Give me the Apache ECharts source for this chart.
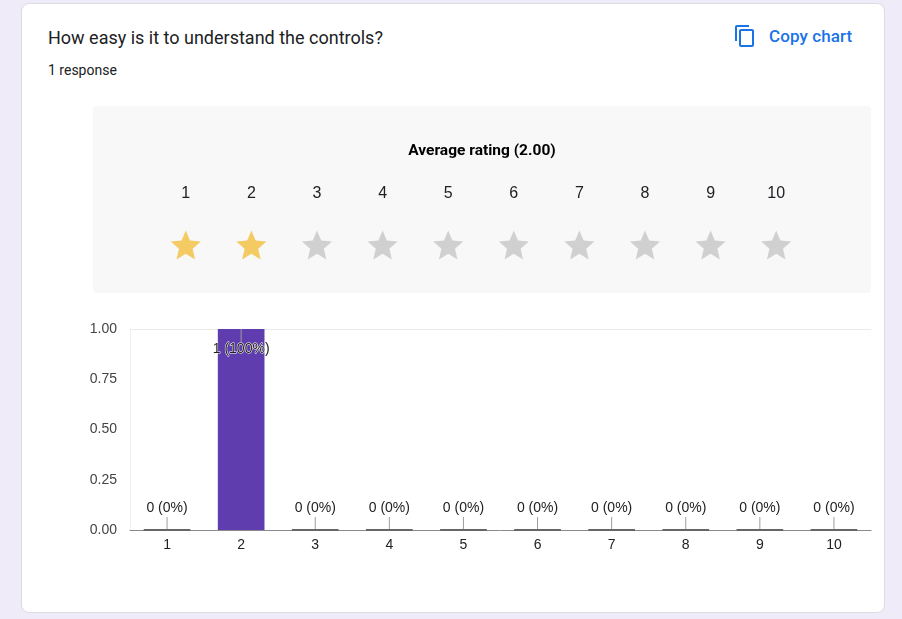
<!DOCTYPE html>
<html>
<head>
<meta charset="utf-8">
<script src="https://cdn.jsdelivr.net/npm/echarts@6/dist/echarts.min.js"></script>
<style>
  html, body { margin: 0; padding: 0; }
  body { width: 902px; height: 619px; background: #f0ebf8; position: relative; overflow: hidden; font-family: Roboto, Arial, sans-serif; }
  .card { position: absolute; left: 21px; top: 3px; width: 862px; height: 608px; background: #fff; border: 1px solid #dadce0; border-radius: 8px; }
  .title { position: absolute; left: 48px; top: 27px; font-size: 18px; color: #202124; }
  .sub { position: absolute; left: 48px; top: 62px; font-size: 14px; color: #202124; }
  .copy { position: absolute; left: 733px; top: 24px; display: flex; align-items: center; color: #1a73e8; font-size: 17px; font-weight: 500; letter-spacing: 0.1px; }
  .copy svg { margin-right: 12px; }
  .panel { position: absolute; left: 93px; top: 106px; width: 778px; height: 187px; background: #f8f8f8; border-radius: 4px; }
  #chart { position: absolute; left: 0; top: 0; width: 902px; height: 619px; }
</style>
</head>
<body>
<div class="card"></div>
<div class="title">How easy is it to understand the controls?</div>
<div class="sub">1 response</div>
<div class="copy">
  <svg width="24" height="24" viewBox="0 0 24 24"><path fill="#1a73e8" d="M16 1H4c-1.1 0-2 .9-2 2v14h2V3h12V1zm3 4H8c-1.1 0-2 .9-2 2v14c0 1.1.9 2 2 2h11c1.1 0 2-.9 2-2V7c0-1.1-.9-2-2-2zm0 16H8V7h11v14z"/></svg>
  <span>Copy chart</span>
</div>
<div class="panel"></div>
<div id="chart"></div>
<script>
// rating scale and responses
var ratings = ['1', '2', '3', '4', '5', '6', '7', '8', '9', '10'];
var counts = [0, 1, 0, 0, 0, 0, 0, 0, 0, 0];
var yTicks = [0, 0.25, 0.5, 0.75, 1];
var averageRating = 2.00;

var starPath = 'path://M12 17.27L18.18 21l-1.64-7.03L22 9.24l-7.19-.61L12 2 9.19 8.63 2 9.24l5.46 4.73L5.82 21z';
var total = counts.reduce(function (a, b) { return a + b; }, 0);
var barRatio = 0.63;
var fontFam = 'Arial, "Liberation Sans", sans-serif';

function starData() {
    var out = [];
    for (var i = 0; i < ratings.length; i++) {
        out.push({
            value: [ratings[i], 0.5],
            itemStyle: { color: (i + 1) <= Math.round(averageRating) ? '#f2be3c' : '#c6c6c6' }
        });
    }
    return out;
}

var chart = echarts.init(document.getElementById('chart'), null, { renderer: 'canvas' });

var option = {
    backgroundColor: 'transparent',
    animation: false,
    graphic: [{
        type: 'text',
        x: 482,
        y: 151,
        style: {
            text: 'Average rating (' + averageRating.toFixed(2) + ')',
            font: 'bold 15.5px Roboto, Arial, sans-serif',
            fill: '#000',
            textAlign: 'center',
            textVerticalAlign: 'middle'
        }
    }],
    grid: [
        { left: 153, width: 656, top: 230, height: 30 },
        { left: 130, right: 31, top: 329, bottom: 89 }
    ],
    xAxis: [
        {
            gridIndex: 0,
            type: 'category',
            data: ratings,
            position: 'top',
            axisLine: { show: false },
            axisTick: { show: false },
            axisLabel: { margin: 28, fontSize: 16, color: '#202124', fontFamily: fontFam }
        },
        {
            gridIndex: 1,
            type: 'category',
            data: ratings,
            axisLine: { lineStyle: { color: '#8a8a8a', width: 1 } },
            axisTick: { show: false },
            axisLabel: { margin: 8, fontSize: 14, color: '#222', fontFamily: fontFam }
        },
        {
            gridIndex: 1,
            type: 'category',
            data: ratings,
            position: 'top',
            axisLine: { lineStyle: { color: '#ebebeb' } },
            axisTick: { show: false },
            axisLabel: { show: false }
        }
    ],
    yAxis: [
        { gridIndex: 0, type: 'value', min: 0, max: 1, show: false },
        {
            gridIndex: 1,
            type: 'value',
            min: yTicks[0],
            max: yTicks[yTicks.length - 1],
            interval: yTicks[1] - yTicks[0],
            axisLine: { show: true, lineStyle: { color: '#f0f0f0' } },
            axisTick: { show: false },
            splitLine: { show: false },
            axisLabel: {
                margin: 13,
                fontSize: 14,
                color: '#444',
                fontFamily: fontFam,
                formatter: function (v) { return v.toFixed(2); }
            }
        }
    ],
    series: [
        {
            type: 'scatter',
            xAxisIndex: 0,
            yAxisIndex: 0,
            symbol: starPath,
            symbolSize: [30, 29],
            data: starData()
        },
        {
            type: 'bar',
            xAxisIndex: 1,
            yAxisIndex: 1,
            barCategoryGap: '37%',
            itemStyle: { color: '#603dae' },
            data: counts.map(function (c) {
                return {
                    value: c,
                    label: c > 0 ? { position: 'insideTop', distance: 13 } : { position: 'top', distance: 15 }
                };
            }),
            label: {
                show: true,
                fontSize: 14,
                fontFamily: fontFam,
                color: '#222',
                textBorderColor: '#fff',
                textBorderWidth: 1,
                formatter: function (p) {
                    var pct = total ? Math.round(p.value / total * 100) : 0;
                    return p.value + ' (' + pct + '%)';
                }
            },
            z: 2
        },
        {
            // leader lines and zero markers
            type: 'custom',
            xAxisIndex: 1,
            yAxisIndex: 1,
            data: counts.map(function (c, i) { return [i, c]; }),
            z: 3,
            silent: true,
            renderItem: function (params, api) {
                var pt = api.coord([api.value(0), api.value(1)]);
                var bw = api.size([1, 0])[0] * barRatio;
                var dir = api.value(1) > 0 ? 1 : -1;
                var kids = [{
                    type: 'line',
                    shape: { x1: pt[0], y1: pt[1], x2: pt[0], y2: pt[1] + dir * 13 },
                    style: { stroke: '#9e9e9e', lineWidth: 1 }
                }];
                if (api.value(1) === 0) {
                    kids.push({
                        type: 'rect',
                        shape: { x: pt[0] - bw / 2, y: pt[1] - 1, width: bw, height: 2 },
                        style: { fill: '#666' }
                    });
                }
                return { type: 'group', children: kids };
            }
        }
    ]
};

chart.setOption(option);
</script>
</body>
</html>
